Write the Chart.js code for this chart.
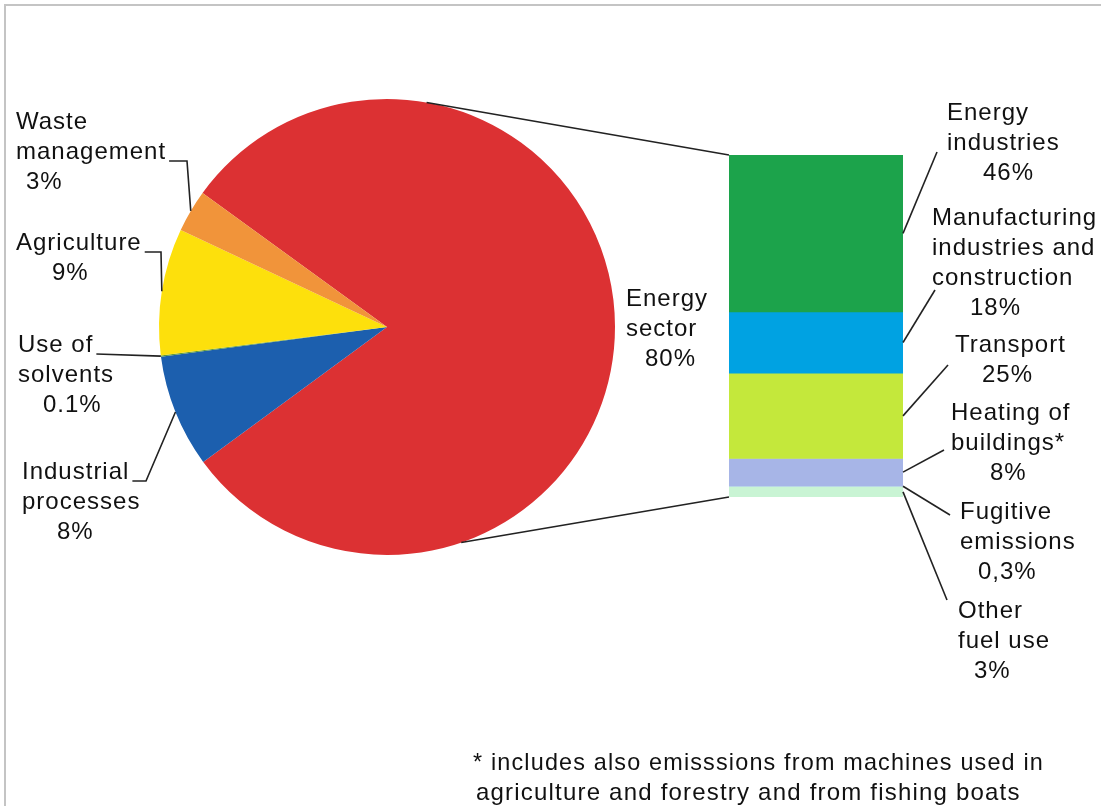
<!DOCTYPE html>
<html>
<head>
<meta charset="utf-8">
<script src="https://cdn.jsdelivr.net/npm/chart.js@4.4.1/dist/chart.umd.min.js"></script>
<style>
    body { margin: 0; background: #fff; }
    #wrap { position: relative; width: 1101px; height: 806px; overflow: hidden; background: #fff; }
    #frame { position: absolute; left: 4px; top: 4px; right: -10px; bottom: -10px; border-top: 2px solid #c4c4c4; border-left: 2px solid #c4c4c4; }
    canvas { position: absolute; left: 0; top: 0; }
</style>
</head>
<body>
<div id="wrap">
    <div id="frame"></div>
    <canvas id="pieChart" width="1101" height="806"></canvas>
    <canvas id="barChart" width="1101" height="806"></canvas>
</div>
<script>
// pie: total emissions by sector
const pieLabels = [['Energy', 'sector'], ['Industrial', 'processes'], ['Use of', 'solvents'], ['Agriculture'], ['Waste', 'management']];
const pieValues = [80, 8, 0.1, 9, 3];
const pieColors = ['#dc3133', '#1c5fae', '#5f9a3c', '#fde00c', '#f1943a'];

// bar: split of the energy sector
const barLabels = [['Energy', 'industries'], ['Manufacturing', 'industries and', 'construction'], ['Transport'], ['Heating of', 'buildings*'], ['Fugitive', 'emissions'], ['Other', 'fuel use']];
const barValues = [46, 18, 25, 8, 0.3, 3];
const barColors = ['#1ca34b', '#00a2e2', '#c4e83b', '#a7b5e7', '#b9d6e6', '#c9f4d4'];

const footnote = ['* includes also emisssions from machines used in', 'agriculture and forestry and from fishing boats'];

const FONT = '24px "Liberation Sans", Arial, sans-serif';
const LINE_H = 30;

// where the label blocks sit (x of name lines, y of first line, x of percent line)
const pieLabelPos = [
    { x: 626, y: 299, px: 645 },
    { x: 22, y: 472, px: 57, line: 0, ex: 146 },
    { x: 18, y: 345, px: 43, line: 0 },
    { x: 16, y: 243, px: 52, line: 0, ex: 161 },
    { x: 16, y: 122, px: 26, line: 1, ex: 187 }
];
const barLabelPos = [
    { x: 947, y: 113, px: 983, end: [937, 152] },
    { x: 932, y: 218, px: 970, end: [935, 290] },
    { x: 955, y: 345, px: 982, end: [948, 365] },
    { x: 951, y: 413, px: 990, end: [944, 450] },
    { x: 960, y: 512, px: 978, end: [950, 515] },
    { x: 958, y: 611, px: 974, end: [947, 600] }
];

function drawBlock(ctx, lines, pct, pos) {
    ctx.font = FONT;
    ctx.letterSpacing = '1px';
    ctx.fillStyle = '#111';
    ctx.textAlign = 'left';
    ctx.textBaseline = 'middle';
    lines.forEach((t, i) => ctx.fillText(t, pos.x, pos.y + i * LINE_H));
    ctx.fillText(pct, pos.px, pos.y + lines.length * LINE_H);
}

function line(ctx, pts) {
    ctx.beginPath();
    ctx.moveTo(pts[0][0], pts[0][1]);
    for (let i = 1; i < pts.length; i++) ctx.lineTo(pts[i][0], pts[i][1]);
    ctx.stroke();
}

const pieLabelPlugin = {
    id: 'pieLabels',
    afterDraw(chart) {
        const ctx = chart.ctx;
        const arcs = chart.getDatasetMeta(0).data;
        ctx.save();
        ctx.strokeStyle = '#222';
        ctx.lineWidth = 1.6;
        pieLabels.forEach((lines, i) => {
            const pos = pieLabelPos[i];
            drawBlock(ctx, lines, pieValues[i] + '%', pos);
            if (pos.line === undefined) return;
            const a = arcs[i];
            const mid = (a.startAngle + a.endAngle) / 2;
            const sx = a.x + Math.cos(mid) * a.outerRadius;
            const sy = a.y + Math.sin(mid) * a.outerRadius;
            const ty = pos.y + pos.line * LINE_H + 9;
            const tx = pos.x + ctx.measureText(lines[pos.line]).width + 3;
            if (pos.ex) line(ctx, [[tx, ty], [pos.ex, ty], [sx, sy]]);
            else line(ctx, [[tx, ty], [sx, sy]]);
        });
        ctx.restore();
    }
};

const pieChart = new Chart(document.getElementById('pieChart').getContext('2d'), {
    type: 'pie',
    data: {
        labels: pieLabels.map(l => l.join(' ')),
        datasets: [{
            data: pieValues,
            backgroundColor: pieColors,
            borderWidth: 0,
            hoverOffset: 0
        }]
    },
    options: {
        responsive: false,
        animation: false,
        rotation: 306,
        layout: { padding: { left: 159, top: 99, right: 486, bottom: 251 } },
        plugins: { legend: { display: false }, tooltip: { enabled: false } }
    },
    plugins: [pieLabelPlugin]
});

const barLabelPlugin = {
    id: 'barLabels',
    afterDraw(chart) {
        const ctx = chart.ctx;
        const yScale = chart.scales.y;
        ctx.save();
        ctx.strokeStyle = '#222';
        ctx.lineWidth = 1.6;

        barLabels.forEach((lines, i) => {
            const pos = barLabelPos[i];
            drawBlock(ctx, lines, String(barValues[i]).replace('.', ',') + '%', pos);
            const bar = chart.getDatasetMeta(i).data[0];
            const right = bar.x + bar.width / 2;
            line(ctx, [[right, (bar.y + bar.base) / 2], pos.end]);
        });

        // connectors from the energy slice to the bar
        const energy = pieChart.getDatasetMeta(0).data[0];
        const first = chart.getDatasetMeta(0).data[0];
        const left = first.x - first.width / 2;
        const total = barValues.reduce((s, v) => s + v, 0);
        const top = yScale.getPixelForValue(0);
        const bottom = yScale.getPixelForValue(total);
        const aTop = -80 * Math.PI / 180, aBot = 71 * Math.PI / 180;
        line(ctx, [[energy.x + Math.cos(aTop) * energy.outerRadius, energy.y + Math.sin(aTop) * energy.outerRadius], [left, top]]);
        line(ctx, [[energy.x + Math.cos(aBot) * energy.outerRadius, energy.y + Math.sin(aBot) * energy.outerRadius], [left, bottom]]);

        // footnote
        ctx.font = FONT;
        ctx.letterSpacing = '1.2px';
        ctx.fillStyle = '#111';
        ctx.textAlign = 'left';
        ctx.textBaseline = 'middle';
        ctx.fillText(footnote[0], 473, 763, 571);
        ctx.fillText(footnote[1], 476, 793, 549);
        ctx.restore();
    }
};

new Chart(document.getElementById('barChart').getContext('2d'), {
    type: 'bar',
    data: {
        labels: ['Energy sector'],
        datasets: barLabels.map((l, i) => ({
            label: l.join(' '),
            data: [barValues[i]],
            backgroundColor: barColors[i],
            borderWidth: 0,
            barPercentage: 1,
            categoryPercentage: 1
        }))
    },
    options: {
        responsive: false,
        animation: false,
        layout: { padding: { left: 729, top: 155, right: 198, bottom: 309 } },
        scales: {
            x: { stacked: true, display: false },
            y: { stacked: true, display: false, reverse: true, min: 0, max: barValues.reduce((s, v) => s + v, 0) }
        },
        plugins: { legend: { display: false }, tooltip: { enabled: false } }
    },
    plugins: [barLabelPlugin]
});
</script>
</body>
</html>
